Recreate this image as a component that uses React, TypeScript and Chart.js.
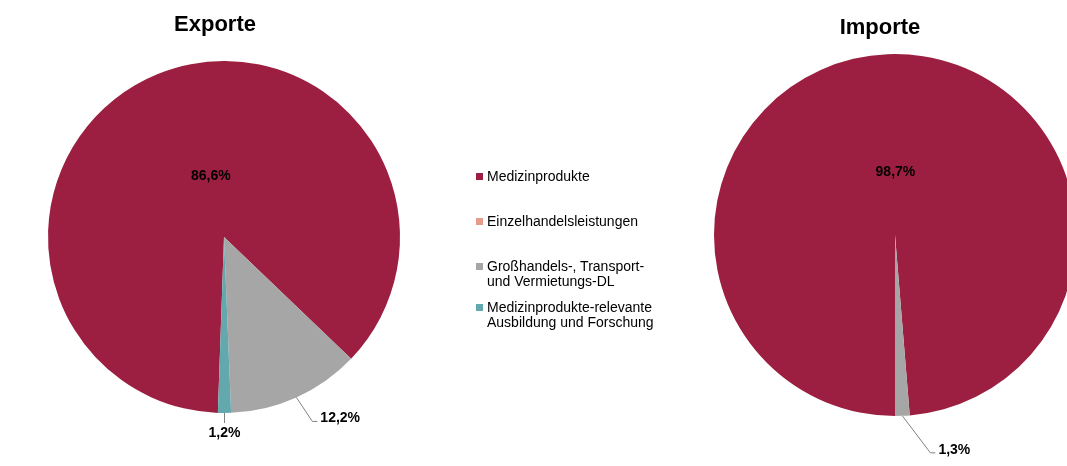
import React, { useEffect, useRef } from "react";
import { Chart, registerables } from "chart.js";

Chart.register(...registerables);

const categories = [
  "Medizinprodukte",
  "Einzelhandelsleistungen",
  "Großhandels-, Transport- und Vermietungs-DL",
  "Medizinprodukte-relevante Ausbildung und Forschung",
];
const legendLines = [
  ["Medizinprodukte"],
  ["Einzelhandelsleistungen"],
  ["Großhandels-, Transport-", "und Vermietungs-DL"],
  ["Medizinprodukte-relevante", "Ausbildung und Forschung"],
];
const exportValues = [86.6, 0, 12.2, 1.2];
const importValues = [98.7, 0, 1.3, 0];
const sliceColors = ["#9C1F41", "#E79A8E", "#A6A6A6", "#63A8AD"];
const titles = ["Exporte", "Importe"];

type LabelSpec = {
  mode: "inside" | "outside" | "below";
  dist?: number;
  nudge?: [number, number];
  elbow?: [number, number];
};

const fmt = (v: number) => v.toFixed(1).replace(".", ",") + "%";

const labelPlugin = {
  id: "sliceLabels",
  afterDatasetsDraw(chart: any) {
    const specs: (LabelSpec | null)[] = chart.options.plugins.sliceLabels.specs;
    const meta = chart.getDatasetMeta(0);
    const values: number[] = chart.data.datasets[0].data;
    const ctx = chart.ctx;
    ctx.save();
    ctx.font = "bold 14px 'Liberation Sans', Arial, sans-serif";
    ctx.fillStyle = "#000";
    meta.data.forEach((arc: any, i: number) => {
      const spec = specs[i];
      if (!spec || !values[i]) return;
      const { x, y, startAngle, endAngle, outerRadius } = arc.getProps(
        ["x", "y", "startAngle", "endAngle", "outerRadius"],
        true
      );
      const mid = (startAngle + endAngle) / 2;
      const text = fmt(values[i]);
      const nx = spec.nudge ? spec.nudge[0] : 0;
      const ny = spec.nudge ? spec.nudge[1] : 0;
      if (spec.mode === "inside") {
        const d = outerRadius * (spec.dist ?? 0.35);
        ctx.textAlign = "center";
        ctx.textBaseline = "middle";
        ctx.fillText(text, x + Math.cos(mid) * d + nx, y + Math.sin(mid) * d + ny);
        return;
      }
      const ex = x + Math.cos(mid) * outerRadius;
      const ey = y + Math.sin(mid) * outerRadius;
      const [dx, dy] = spec.elbow ?? [0, 10];
      ctx.strokeStyle = "#808080";
      ctx.lineWidth = 1;
      ctx.beginPath();
      ctx.moveTo(ex, ey);
      ctx.lineTo(ex + dx, ey + dy);
      if (spec.mode === "outside") {
        ctx.lineTo(ex + dx + 5, ey + dy);
      }
      ctx.stroke();
      if (spec.mode === "outside") {
        ctx.textAlign = "left";
        ctx.textBaseline = "middle";
        ctx.fillText(text, ex + dx + 8 + nx, ey + dy - 3 + ny);
      } else {
        ctx.textAlign = "center";
        ctx.textBaseline = "middle";
        ctx.fillText(text, ex + dx + nx, ey + dy + 10 + ny);
      }
    });
    ctx.restore();
  },
};

function PieChart(props: {
  values: number[];
  rotation: number;
  radius: number;
  padding: { left: number; right: number; top: number; bottom: number };
  width: number;
  height: number;
  specs: (LabelSpec | null)[];
}) {
  const ref = useRef<HTMLCanvasElement | null>(null);
  useEffect(() => {
    if (!ref.current) return;
    const chart = new Chart(ref.current, {
      type: "pie",
      data: {
        labels: categories,
        datasets: [
          {
            data: props.values,
            backgroundColor: sliceColors,
            borderWidth: 0,
            hoverBorderWidth: 0,
            hoverOffset: 0,
          },
        ],
      },
      options: {
        responsive: false,
        animation: false,
        rotation: props.rotation,
        radius: props.radius,
        layout: { padding: props.padding },
        events: [],
        plugins: {
          legend: { display: false },
          tooltip: { enabled: false },
          title: { display: false },
          // @ts-ignore
          sliceLabels: { specs: props.specs },
        },
      } as any,
      plugins: [labelPlugin],
    });
    return () => chart.destroy();
  }, []);
  return <canvas ref={ref} width={props.width} height={props.height} />;
}

const font = "'Liberation Sans', Arial, sans-serif";

export default function App() {
  useEffect(() => {
    document.body.style.margin = "0";
  }, []);
  return (
    <div
      style={{
        position: "absolute",
        left: 0,
        top: 0,
        width: 1067,
        height: 466,
        overflow: "hidden",
        background: "#fff",
        fontFamily: font,
      }}
    >
      <div style={{ position: "absolute", left: 0, top: 0 }}>
        <PieChart
          values={exportValues}
          rotation={182}
          radius={176}
          width={450}
          height={466}
          padding={{ left: 48, right: 50, top: 61, bottom: 53 }}
          specs={[
            { mode: "inside", dist: 0.35, nudge: [10, -4] },
            null,
            { mode: "outside", elbow: [16, 24] },
            { mode: "below", elbow: [0, 10] },
          ]}
        />
      </div>
      <div style={{ position: "absolute", left: 620, top: 0 }}>
        <PieChart
          values={importValues}
          rotation={180}
          radius={181}
          width={560}
          height={466}
          padding={{ left: 94, right: 104, top: 54, bottom: 50 }}
          specs={[
            { mode: "inside", dist: 0.35, nudge: [3, 0] },
            null,
            { mode: "outside", elbow: [28, 37] },
            null,
          ]}
        />
      </div>
      <div
        style={{
          position: "absolute",
          left: 115,
          top: 10,
          width: 200,
          textAlign: "center",
          fontSize: 22,
          fontWeight: "bold",
          lineHeight: "28px",
        }}
      >
        {titles[0]}
      </div>
      <div
        style={{
          position: "absolute",
          left: 780,
          top: 13,
          width: 200,
          textAlign: "center",
          fontSize: 22,
          fontWeight: "bold",
          lineHeight: "28px",
        }}
      >
        {titles[1]}
      </div>
      <div style={{ position: "absolute", left: 476, top: 169, fontSize: 14, color: "#000" }}>
        {legendLines.map((lines, i) => (
          <div
            key={i}
            style={{
              position: "relative",
              paddingLeft: 11,
              height: i === 1 ? 45 : i === 0 ? 45 : 41,
              lineHeight: "15px",
            }}
          >
            <span
              style={{
                position: "absolute",
                left: 0,
                top: 4,
                width: 7,
                height: 7,
                background: sliceColors[i],
              }}
            />
            {lines.map((l, j) => (
              <div key={j}>{l}</div>
            ))}
          </div>
        ))}
      </div>
    </div>
  );
}
